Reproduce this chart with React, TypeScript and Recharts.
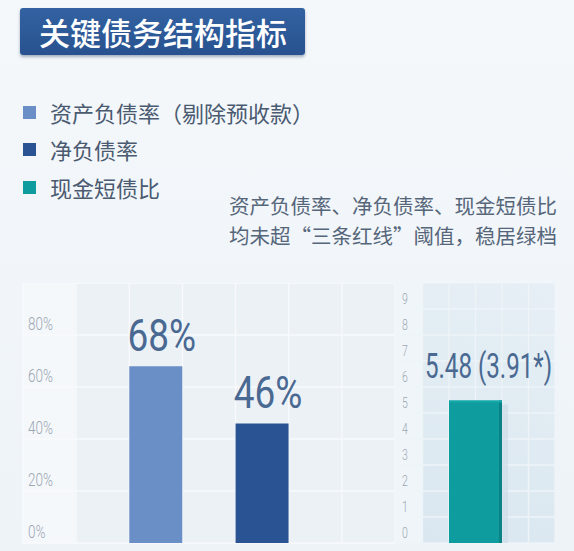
import React from "react";
import { BarChart, Bar, XAxis, YAxis, CartesianGrid, Cell, LabelList } from "recharts";

// legend
const legendNames = ["资产负债率（剔除预收款）", "净负债率", "现金短债比"];
const legendColors = ["#6a8fc6", "#2a5394", "#0f9c9e"];

// left panel: ratios in %
const ratioNames = ["资产负债率（剔除预收款）", "净负债率"];
const ratioValues = [68, 46];
const ratioLabels = ["68%", "46%"];
const ratioTicks = [0, 20, 40, 60, 80, 100];

// right panel: cash / short-term debt
const cashNames = ["现金短债比"];
const cashValues = [5.48];
const cashLabels = ["5.48 (3.91*)"];
const cashTicks = [0, 1, 2, 3, 4, 5, 6, 7, 8, 9, 10];

const title = "关键债务结构指标";
const noteLines = ["资产负债率、净负债率、现金短债比", "均未超“三条红线”阈值，稳居绿档"];

const CJK = '"Noto Sans CJK SC", "Noto Sans", sans-serif';
const NUM = "Roboto, sans-serif";

// left chart has 7 equal columns: axis column, gap, bar, gap, bar, gap, gap
const leftLayout = [null, null, 0, null, 1, null, null];
const leftData = leftLayout.map((idx, i) => ({
  slot: idx === null ? `gap${i}` : ratioNames[idx],
  value: idx === null ? null : ratioValues[idx],
  label: idx === null ? "" : ratioLabels[idx],
  color: idx === null ? "none" : legendColors[idx],
}));

// right chart: axis column, bar, gap
const rightLayout = [null, 0, null];
const rightData = rightLayout.map((idx, i) => ({
  slot: idx === null ? `gap${i}` : cashNames[idx],
  value: idx === null ? null : cashValues[idx],
  label: idx === null ? "" : cashLabels[idx],
  color: idx === null ? "none" : legendColors[2],
}));

const makeColumns = (n: number) => (props: any) => {
  const { offset } = props;
  return Array.from({ length: n + 1 }, (_, i) => offset.left + (i * offset.width) / n);
};

const makeTick = (x0: number, size: number, suffix: string, top: number) => (props: any) => {
  const { y, payload } = props;
  if (!payload || payload.value === top) return <g />;
  return (
    <text
      transform={`translate(${x0},${Number(y) - 5}) scale(0.75,1)`}
      fontSize={size}
      fill="#9ca7b2"
      fontFamily={NUM}
      fontWeight={300}
    >
      {`${payload.value}${suffix}`}
    </text>
  );
};

const makeValueLabel = (size: number, sx: number, dx: number, dy: number) => (props: any) => {
  const vb = props.viewBox || {};
  const x = Number(props.x ?? vb.x);
  const y = Number(props.y ?? vb.y);
  const width = Number(props.width ?? vb.width);
  const text = props.value;
  if (!text || isNaN(x) || isNaN(y)) return <g />;
  return (
    <text
      transform={`translate(${x + width / 2 + dx},${y - dy}) scale(${sx},1)`}
      textAnchor="middle"
      fontSize={size}
      fill="#4a6992"
      fontFamily={NUM}
      fontWeight={400}
    >
      {text}
    </text>
  );
};

// teal bar with a little depth on its right and top edges
const DepthBar = (props: any) => {
  const { x, y, width, height, fill } = props;
  if (!height || height <= 0) return <g />;
  return (
    <g>
      <rect x={x + width} y={y + 4} width={6} height={height - 4} fill="#c9dbe6" opacity={0.6} />
      <rect x={x} y={y} width={width} height={height} fill={fill} />
      <rect x={x + width - 3} y={y} width={3} height={height} fill="#0b8286" />
      <rect x={x} y={y} width={width} height={2} fill="#12a9ab" />
    </g>
  );
};

export default function App() {
  return (
    <div
      style={{
        position: "absolute",
        left: 0,
        top: 0,
        width: 574,
        height: 551,
        overflow: "hidden",
        background: "linear-gradient(180deg, #f4f8fb 0%, #eef3f8 100%)",
        fontFamily: CJK,
      }}
    >
      {/* title */}
      <div
        style={{
          position: "absolute",
          left: 20,
          top: 8,
          width: 285,
          height: 47,
          background: "linear-gradient(180deg, #3362a2 0%, #28528f 100%)",
          borderRadius: 3,
          boxShadow: "0 2px 3px rgba(20,40,80,0.35)",
          color: "#ffffff",
          fontSize: 31,
          lineHeight: "47px",
          paddingLeft: 19,
          boxSizing: "border-box",
          fontWeight: 500,
          whiteSpace: "nowrap",
        }}
      >
        {title}
      </div>

      {/* legend */}
      {legendNames.map((name, i) => (
        <div
          key={name}
          style={{
            position: "absolute",
            left: 23,
            top: [112, 149, 187][i] - 16,
            height: 32,
            display: "flex",
            alignItems: "center",
            whiteSpace: "nowrap",
          }}
        >
          <div style={{ width: 13, height: 13, background: legendColors[i], marginRight: 14 }} />
          <span style={{ fontSize: 22, color: "#4a5a70" }}>{name}</span>
        </div>
      ))}

      {/* note */}
      <div
        style={{
          position: "absolute",
          right: 17,
          top: 190,
          fontSize: 20.5,
          lineHeight: "30px",
          color: "#56667a",
          textAlign: "right",
          whiteSpace: "nowrap",
        }}
      >
        {noteLines.map((l) => (
          <div key={l}>{l}</div>
        ))}
      </div>

      {/* panel backgrounds */}
      <div style={{ position: "absolute", left: 22, top: 283, width: 53, height: 260, background: "#f5f8fb" }} />
      <div style={{ position: "absolute", left: 75, top: 283, width: 320, height: 260, background: "#ecf1f6" }} />
      <div style={{ position: "absolute", left: 395, top: 283, width: 27, height: 260, background: "#f0f5f9" }} />
      <div
        style={{
          position: "absolute",
          left: 422,
          top: 283,
          width: 133,
          height: 260,
          background: "linear-gradient(200deg, #e6eff5 0%, #dae7f0 100%)",
        }}
      />

      {/* left chart */}
      <div style={{ position: "absolute", left: 22, top: 283 }}>
        <BarChart
          width={373}
          height={264}
          data={leftData}
          margin={{ top: 0, right: 0, left: 0, bottom: 4 }}
          barCategoryGap={0}
          style={{ overflow: "visible" }}
        >
          <CartesianGrid
            stroke="#f8fafc"
            strokeWidth={1.3}
            verticalCoordinatesGenerator={makeColumns(7)}
          />
          <XAxis
            dataKey="slot"
            height={0}
            tick={false}
            tickLine={false}
            axisLine={{ stroke: "#d6dee7", strokeWidth: 2 }}
          />
          <YAxis
            width={1}
            domain={[0, 100]}
            ticks={ratioTicks}
            axisLine={false}
            tickLine={false}
            interval={0}
            tick={makeTick(6, 18, "%", 100)}
          />
          <Bar dataKey="value" isAnimationActive={false}>
            {leftData.map((d) => (
              <Cell key={d.slot} fill={d.color} />
            ))}
            <LabelList dataKey="label" content={makeValueLabel(44, 0.84, 6, 15)} />
          </Bar>
        </BarChart>
      </div>

      {/* right chart */}
      <div style={{ position: "absolute", left: 395, top: 283 }}>
        <BarChart
          width={160}
          height={264}
          data={rightData}
          margin={{ top: 0, right: 0, left: 0, bottom: 4 }}
          barCategoryGap={0}
          style={{ overflow: "visible" }}
        >
          <CartesianGrid
            stroke="#eef4f8"
            strokeWidth={1.3}
            verticalCoordinatesGenerator={makeColumns(6)}
          />
          <XAxis
            dataKey="slot"
            height={0}
            tick={false}
            tickLine={false}
            axisLine={{ stroke: "#d6dee7", strokeWidth: 2 }}
          />
          <YAxis
            width={1}
            domain={[0, 10]}
            ticks={cashTicks}
            axisLine={false}
            tickLine={false}
            interval={0}
            tick={makeTick(7, 14, "", 10)}
          />
          <Bar dataKey="value" isAnimationActive={false} shape={<DepthBar />}>
            {rightData.map((d) => (
              <Cell key={d.slot} fill={d.color} />
            ))}
            <LabelList dataKey="label" content={makeValueLabel(35, 0.69, 13, 23)} />
          </Bar>
        </BarChart>
      </div>
    </div>
  );
}
